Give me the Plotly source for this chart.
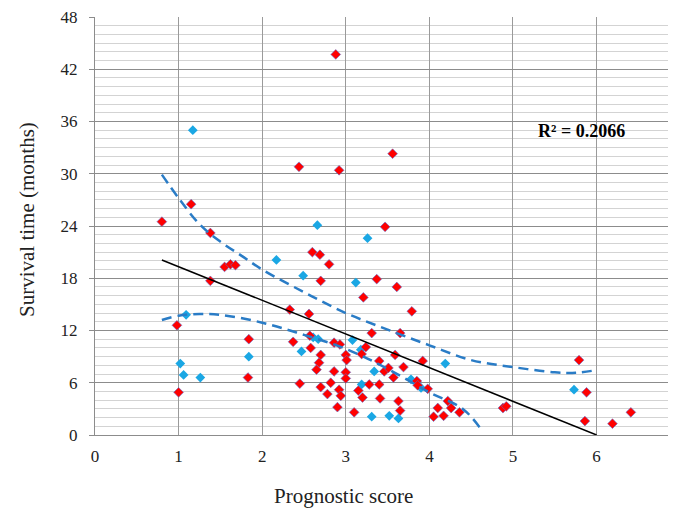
import plotly.graph_objects as go

# ---- data ----
red_x = [0.80, 1.15, 1.38, 1.55, 1.62, 1.68, 1.38, 0.98, 1.00, 1.84, 1.83,
         2.44, 2.92, 2.88, 3.56, 3.47, 2.60, 2.69, 2.80, 2.70, 3.37, 3.61, 3.21, 3.79, 2.33, 2.56,
         2.37, 2.57, 2.58, 2.70, 2.68, 2.65, 2.45, 2.70, 2.78, 2.86, 2.93, 2.86, 2.82, 2.92, 2.94, 2.90,
         3.00, 3.01, 3.00, 3.00, 3.19, 3.15, 3.20, 3.10,
         3.31, 3.65, 3.24, 3.59, 3.40, 3.92, 3.46, 3.51, 3.69, 3.57, 3.85, 3.86, 3.98, 3.28, 3.40, 3.41,
         3.63, 3.65,
         4.22, 4.10, 4.26, 4.36, 4.05, 4.17, 4.88, 4.92, 5.79, 5.88, 5.86, 6.19, 6.41]
red_y = [24.5, 26.5, 23.2, 19.3, 19.6, 19.5, 17.7, 12.6, 4.9, 11.0, 6.6,
         30.8, 30.4, 43.7, 32.3, 23.9, 21.0, 20.7, 19.6, 17.7, 17.9, 17.0, 15.8, 14.2, 14.4, 13.9,
         10.7, 11.4, 10.0, 9.2, 8.3, 7.5, 5.9, 5.5, 4.7, 10.6, 10.4, 7.3, 6.0, 5.2, 4.5, 3.2,
         9.2, 8.6, 7.2, 6.5, 9.3, 5.1, 4.3, 2.6,
         11.7, 11.7, 10.1, 9.2, 8.5, 8.5, 7.3, 7.7, 7.8, 6.6, 6.2, 5.7, 5.3, 5.8, 5.8, 4.2,
         3.9, 2.8,
         3.9, 3.1, 3.1, 2.6, 2.1, 2.2, 3.1, 3.3, 8.6, 4.9, 1.6, 1.3, 2.6]

blue_x = [1.17, 1.09, 1.02, 1.06, 1.26, 1.84, 2.17, 2.49, 2.66, 3.26, 3.12, 2.47, 2.61,
          2.67, 3.08, 3.18, 3.19, 3.34, 3.78, 3.90, 3.31, 3.52, 3.63, 4.19, 5.73]
blue_y = [35.0, 13.8, 8.2, 6.9, 6.6, 9.0, 20.1, 18.3, 24.1, 22.6, 17.5, 9.6, 11.2,
          11.0, 10.9, 9.8, 5.8, 7.3, 6.4, 5.4, 2.1, 2.2, 1.9, 8.2, 5.2]

trend_x = [0.8, 6.0]
trend_y = [20.1, 0.0]

upper_x = [0.8, 1.0, 1.25, 1.5, 1.75, 2.0, 2.5, 3.0, 3.5, 4.0, 4.5, 5.0, 5.5, 5.75, 6.0]
upper_y = [29.9, 27.2, 24.2, 22.2, 20.6, 19.0, 16.4, 14.0, 12.1, 10.3, 8.6, 7.8, 7.2, 7.15, 7.45]

lower_x = [0.8, 1.0, 1.25, 1.5, 2.0, 2.5, 3.0, 3.5, 4.0, 4.4, 4.6]
lower_y = [13.2, 13.7, 13.9, 13.8, 12.9, 11.5, 9.9, 7.6, 4.9, 3.0, 0.9]

x_ticks = [0, 1, 2, 3, 4, 5, 6]
y_ticks = [0, 6, 12, 18, 24, 30, 36, 42, 48]
r2_text = "R² = 0.2066"
x_title = "Prognostic score"
y_title = "Survival time (months)"

FONT = "Liberation Serif, Times New Roman, serif"

fig = go.Figure()
fig.add_trace(go.Scatter(x=blue_x, y=blue_y, mode="markers",
                         marker=dict(symbol="diamond", size=7.5, color="#1AA7E4",
                                     line=dict(width=0)), showlegend=False))
fig.add_trace(go.Scatter(x=red_x, y=red_y, mode="markers",
                         marker=dict(symbol="diamond", size=7.5, color="#FF0000",
                                     line=dict(width=0.6, color="#5B6FD0")), showlegend=False))
fig.add_trace(go.Scatter(x=upper_x, y=upper_y, mode="lines",
                         line=dict(color="#2A7CC6", width=2.5, dash="10px,6px", shape="spline"),
                         showlegend=False))
fig.add_trace(go.Scatter(x=lower_x, y=lower_y, mode="lines",
                         line=dict(color="#2A7CC6", width=2.5, dash="10px,6px", shape="spline"),
                         showlegend=False))
fig.add_trace(go.Scatter(x=trend_x, y=trend_y, mode="lines",
                         line=dict(color="#000000", width=1.5), showlegend=False))

# the page body adds an 8px offset, so the figure is 8px smaller on each axis
fig.update_layout(
    width=668, height=504,
    margin=dict(l=87, r=0, t=9, b=77, autoexpand=False),
    paper_bgcolor="white", plot_bgcolor="white",
    font=dict(family=FONT, color="#222222", size=17),
    xaxis=dict(range=[0, 6.95], tickvals=x_ticks, ticktext=[str(v) for v in x_ticks],
               showgrid=True, gridcolor="#9A9A9A", gridwidth=1,
               showline=True, linecolor="#8C8C8C", linewidth=1,
               zeroline=False, ticks="", ticklabelstandoff=6, automargin=False,
               ticklabeloverflow="allow",
               tickfont=dict(family=FONT, size=17, color="#222222")),
    yaxis=dict(range=[0, 48], tickvals=y_ticks, ticktext=[str(v) for v in y_ticks],
               showgrid=True, gridcolor="#8C8C8C", gridwidth=1,
               showline=True, linecolor="#8C8C8C", linewidth=1,
               zeroline=False, ticks="outside", ticklen=5, tickcolor="#8C8C8C",
               ticklabelstandoff=8, automargin=False, ticklabeloverflow="allow",
               minor=dict(dtick=1, showgrid=True, gridcolor="#D3D3D3", gridwidth=1, ticks=""),
               tickfont=dict(family=FONT, size=17, color="#222222")),
    annotations=[
        dict(text="<b>" + r2_text + "</b>", xref="paper", yref="paper", x=0.838, y=0.727,
             showarrow=False, font=dict(family=FONT, size=18, color="#000000"),
             xanchor="center", yanchor="middle"),
        dict(text=y_title, xref="paper", yref="paper", x=(27 - 95) / 581, y=(435 - 220) / 418,
             textangle=-90, showarrow=False, font=dict(family=FONT, size=21, color="#222222"),
             xanchor="center", yanchor="middle"),
        dict(text=x_title, xref="paper", yref="paper", x=(343 - 95) / 581, y=(435 - 496) / 418,
             showarrow=False, font=dict(family=FONT, size=21, color="#222222"),
             xanchor="center", yanchor="middle"),
    ],
)

fig.write_html("out.html")
